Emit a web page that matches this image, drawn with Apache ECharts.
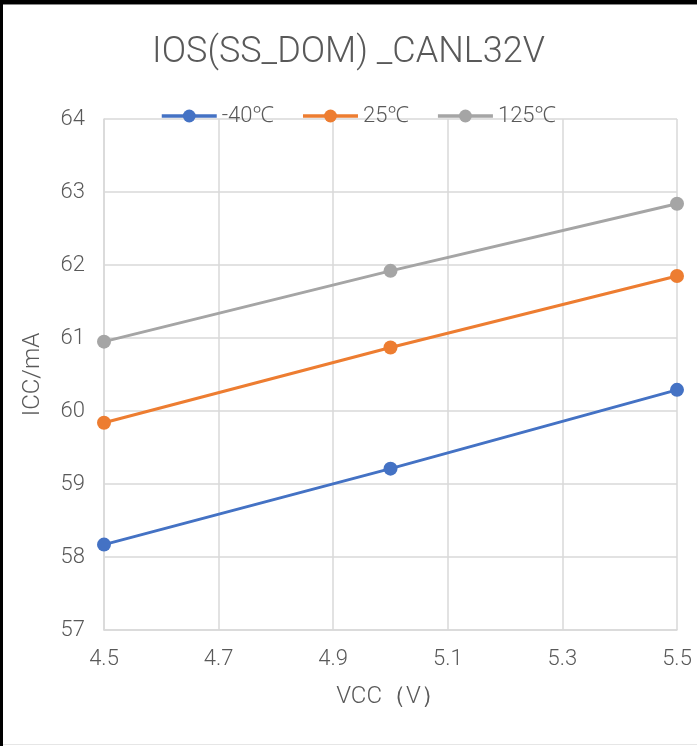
<!DOCTYPE html>
<html><head><meta charset="utf-8">
<script src="https://cdn.jsdelivr.net/npm/echarts@6/dist/echarts.min.js"></script>
<style>html,body{margin:0;padding:0;background:#fff}#c{width:697px;height:746px}</style>
</head><body><div id="c"></div>
<script>
var vcc = [4.5, 5.0, 5.5];
var seriesNames = ['-40℃', '25℃', '125℃'];
var icc_m40 = [58.17, 59.21, 60.29];
var icc_25 = [59.84, 60.87, 61.85];
var icc_125 = [60.95, 61.92, 62.84];
var colors = ['#4472C4', '#ED7D31', '#A5A5A5'];
var xMin = 4.5, xMax = 5.5, xStep = 0.2;
var yMin = 57, yMax = 64, yStep = 1;

var FONT = 'Roboto, "Noto Sans", sans-serif';
var W = 300;
var chart = echarts.init(document.getElementById('c'));
function pts(arr){ return vcc.map(function(x,i){ return [+(x - xMin).toFixed(6), arr[i]]; }); }
var all = [icc_m40, icc_25, icc_125];
chart.setOption({
  animation: false,
  backgroundColor: '#fff',
  title: { text: 'IOS(SS_DOM) _CANL32V', left: 'center', top: 30,
    textStyle: { fontFamily: FONT, fontSize: 36, fontWeight: W, color: '#595959' } },
  legend: { top: 100, left: 155, itemWidth: 55, itemHeight: 16, itemGap: 27,
    lineStyle: { width: 3.5 },
    textStyle: { fontFamily: FONT, fontSize: 22, fontWeight: W, color: '#595959' },
    data: seriesNames },
  grid: { left: 104, right: 20, top: 119, bottom: 116 },
  xAxis: { type: 'value', min: 0, max: +(xMax - xMin).toFixed(6), interval: xStep,
    name: 'VCC（V）', nameLocation: 'middle', nameGap: 55,
    nameTextStyle: { fontFamily: FONT, fontSize: 24, fontWeight: W, color: '#595959' },
    axisLine: { show: true, lineStyle: { color: '#d9d9d9', width: 1.5 } },
    axisTick: { show: false },
    axisLabel: { margin: 18, fontFamily: FONT, fontSize: 22, fontWeight: W, color: '#595959',
      formatter: function(v){ return (v + xMin).toFixed(1); } },
    splitLine: { show: true, lineStyle: { color: '#d9d9d9', width: 1.5 } } },
  yAxis: { type: 'value', min: yMin, max: yMax, interval: yStep,
    name: 'ICC/mA', nameLocation: 'middle', nameGap: 59,
    nameTextStyle: { fontFamily: FONT, fontSize: 24, fontWeight: W, color: '#595959' },
    axisLine: { show: true, lineStyle: { color: '#d9d9d9', width: 1.5 } },
    axisTick: { show: false },
    axisLabel: { margin: 19, fontFamily: FONT, fontSize: 22, fontWeight: W, color: '#595959' },
    splitLine: { show: true, lineStyle: { color: '#d9d9d9', width: 1.5 } } },
  graphic: [
    { type: 'rect', shape: { x: 0, y: 0, width: 697, height: 4 }, style: { fill: '#000' }, z: 100 },
    { type: 'rect', shape: { x: 0, y: 4, width: 697, height: 1 }, style: { fill: '#888' }, z: 100 },
    { type: 'rect', shape: { x: 0, y: 0, width: 3, height: 746 }, style: { fill: '#000' }, z: 100 },
    { type: 'rect', shape: { x: 3, y: 744, width: 694, height: 1 }, style: { fill: '#e6e6e6' }, z: 100 }
  ],
  series: seriesNames.map(function(n, i){
    return { name: n, type: 'line', data: pts(all[i]), symbol: 'circle', symbolSize: 14,
      itemStyle: { color: colors[i] }, lineStyle: { color: colors[i], width: 3 } };
  })
});
</script></body></html>
